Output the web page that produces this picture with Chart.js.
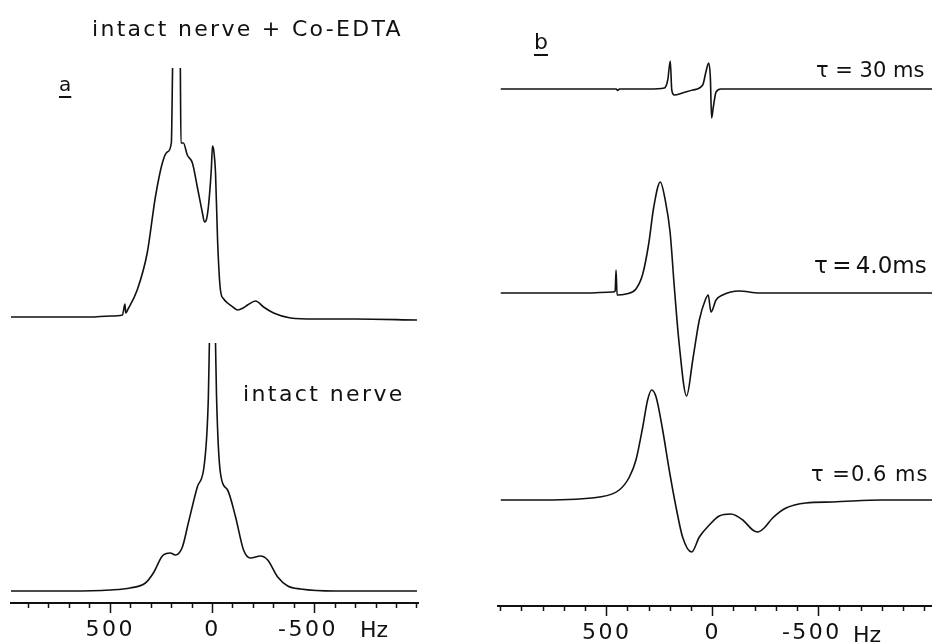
<!DOCTYPE html>
<html>
<head>
<meta charset="utf-8">
<script src="https://cdn.jsdelivr.net/npm/chart.js@4.4.1/dist/chart.umd.min.js"></script>
<style>
  html, body { margin: 0; padding: 0; background: #fff; }
  body { width: 932px; height: 643px; position: relative; overflow: hidden; font-family: "DejaVu Sans", sans-serif; color: #111; }
  .panel { position: absolute; top: 0; width: 466px; height: 643px; }
  .lbl { position: absolute; font-size: 22px; line-height: 22px; white-space: nowrap; }
  .ul { text-decoration: underline; text-decoration-thickness: 1.5px; text-underline-offset: 5px; }
</style>
</head>
<body>
<div class="panel" style="left:0"><canvas id="chartA"></canvas></div>
<div class="panel" style="left:466px"><canvas id="chartB"></canvas></div>

<div class="lbl" style="left:92px;top:18px;letter-spacing:2.3px">intact nerve + Co-EDTA</div>
<div class="lbl ul" style="left:59px;top:73px;font-size:20px">a</div>
<div class="lbl" style="left:243px;top:383px;letter-spacing:2.4px">intact nerve</div>
<div class="lbl" style="left:360px;top:619px">Hz</div>

<div class="lbl ul" style="left:534px;top:31px">b</div>
<div class="lbl" style="left:816px;top:59px;font-size:21px">τ = 30 ms</div>
<div class="lbl" style="left:814px;top:254px;font-size:23px;word-spacing:-3px">τ = 4.0ms</div>
<div class="lbl" style="left:811px;top:463px;font-size:21px;letter-spacing:1px">τ =0.6 ms</div>
<div class="lbl" style="left:853px;top:624px">Hz</div>

<script>
// frequency axis (Hz), tick marks every 100 Hz, labelled every 500 Hz
const hzTicks = [1000, 900, 800, 700, 600, 500, 400, 300, 200, 100, 0,
  -100, -200, -300, -400, -500, -600, -700, -800, -900, -1000];
const hzLabels = [500, 0, -500];

// panel a, top: intact nerve + Co-EDTA (null = off scale)
const coHz = [1000, 800, 600, 500, 440, 428, 424, 415, 368, 319, 279, 245, 221, 201, 195, 176,
  157, 154, 142, 123, 98, 74, 49, 39, 30, 20, 10, 5, 0, -6, -15, -25, -39, -55, -74, -100,
  -123, -150, -172, -211, -250, -299, -382, -500, -700, -1000];
const coVal = [1, 1, 1, 2, 3, 14, 5, 8, 28, 65, 121, 155, 166, 175, 250, null,
  250, 175, 175, 163, 155, 131, 105, 96, 98, 111, 135, 151, 172, 168, 145, 78, 28, 19, 15, 11,
  8, 10, 13, 17, 11, 5, 0, -1, -1, -2];

// panel a, bottom: intact nerve
const inHz = [1000, 700, 500, 402, 328, 289, 245, 206, 181, 147, 118, 74, 39, 20, 15, 0,
  -15, -20, -39, -74, -113, -152, -186, -235, -270, -319, -368, -431, -600, -800, -1000];
const inVal = [0, 0, 1, 3, 8, 18, 35, 38, 36, 44, 68, 104, 128, 194, 248, null,
  248, 194, 118, 101, 74, 41, 33, 35, 31, 14, 5, 2, 0, 0, 0];

// panel b: tau = 30 ms
const t30Hz = [1000, 800, 600, 455, 448, 440, 300, 228, 212, 200, 193, 181, 142, 94, 47, 32,
  19, 11, 5, -3, -16, -39, -200, -500, -800, -1035];
const t30Val = [0, 0, 0, 0, -1.5, 0, 0, 1, 9, 28, -1, -6, -4, -1, 4, 17,
  26, 12, -29, -18, -3, 0, 0, 0, 0, 0];

// panel b: tau = 4.0 ms
const t4Hz = [1000, 800, 600, 472, 460, 456, 451, 409, 362, 330, 302, 278, 247, 224, 201, 181,
  158, 123, 94, 63, 35, 21, 8, -16, -47, -125, -220, -500, -800, -1035];
const t4Val = [0, 0, 0, 1, 2, 23, -2, -1, 4, 19, 49, 86, 111, 93, 61, 6,
  -51, -103, -67, -27, -7, -2, -19, -7, -2, 2, 0, 0, 0, 0];

// panel b: tau = 0.6 ms
const t06Hz = [1000, 800, 535, 441, 393, 362, 330, 307, 288, 267, 236, 205, 173, 142, 99, 63,
  16, -31, -86, -142, -189, -212, -243, -283, -346, -440, -566, -800, -1035];
const t06Val = [0, 0, 3, 10, 23, 40, 73, 100, 110, 103, 70, 30, -7, -37, -52, -37,
  -25, -16, -14, -20, -30, -32, -28, -18, -8, -3, -2, 0, 0];

// layout of the two plotting frames (page pixels)
const frameA = { left: 11, right: 48, top: 68, axisH: 40, baselines: [318, 591], xMin: -1005, xMax: 985, font: 22, spacing: '2.5px' };
const frameB = { left: 32, right: 0, top: 30, axisH: 37, baselines: [89, 293, 500], xMin: -1035, xMax: 1013, font: 22, spacing: '2.5px' };
const pageH = 643;

function points(hz, vals) {
  return hz.map((x, i) => ({ x, y: vals[i] }));
}

// negative label sits a little left of its tick, as in the original
function tickText(v) {
  if (!hzLabels.includes(v)) return '';
  return v < 0 ? String(v) + '\u2002' : String(v);
}

function xAxis(f) {
  return {
    type: 'linear',
    reverse: true,
    min: f.xMin,
    max: f.xMax,
    afterBuildTicks: s => { s.ticks = hzTicks.filter(v => v >= f.xMin && v <= f.xMax).map(v => ({ value: v })); },
    afterFit: s => { s.height = f.axisH; },
    border: { display: true, color: '#111', width: 2 },
    grid: {
      drawOnChartArea: false,
      drawTicks: true,
      tickLength: 10,
      tickWidth: 1.5,
      tickColor: '#111',
      tickBorderDash: ctx => (ctx.tick && hzLabels.includes(ctx.tick.value)) ? [] : [4, 40]
    },
    ticks: {
      autoSkip: false,
      maxRotation: 0,
      padding: 4,
      color: '#111',
      font: { family: 'DejaVu Sans', size: f.font },
      callback: tickText
    }
  };
}

function yAxes(f, count) {
  const bottom = pageH - f.axisH;
  const axes = {};
  for (let i = 0; i < count; i++) {
    const base = f.baselines[i];
    axes['y' + i] = { type: 'linear', display: false, min: base - bottom, max: base - f.top };
  }
  return axes;
}

function spectrum(hz, vals, axis) {
  return {
    data: points(hz, vals),
    yAxisID: axis,
    borderColor: '#111',
    borderWidth: 1.6,
    pointRadius: 0,
    cubicInterpolationMode: 'monotone',
    spanGaps: false
  };
}

const letterSpacing = {
  id: 'letterSpacing',
  beforeDraw: chart => { chart.ctx.letterSpacing = chart.options.plugins.letterSpacing.value; }
};

function makeChart(id, f, datasets) {
  return new Chart(document.getElementById(id), {
    type: 'line',
    data: { datasets },
    plugins: [letterSpacing],
    options: {
      responsive: true,
      maintainAspectRatio: false,
      animation: false,
      events: [],
      layout: { padding: { left: f.left, right: f.right, top: f.top, bottom: 0 } },
      plugins: { legend: { display: false }, tooltip: { enabled: false }, letterSpacing: { value: f.spacing } },
      scales: Object.assign({ x: xAxis(f) }, yAxes(f, datasets.length))
    }
  });
}

makeChart('chartA', frameA, [
  spectrum(coHz, coVal, 'y0'),
  spectrum(inHz, inVal, 'y1')
]);

makeChart('chartB', frameB, [
  spectrum(t30Hz, t30Val, 'y0'),
  spectrum(t4Hz, t4Val, 'y1'),
  spectrum(t06Hz, t06Val, 'y2')
]);
</script>
</body>
</html>
